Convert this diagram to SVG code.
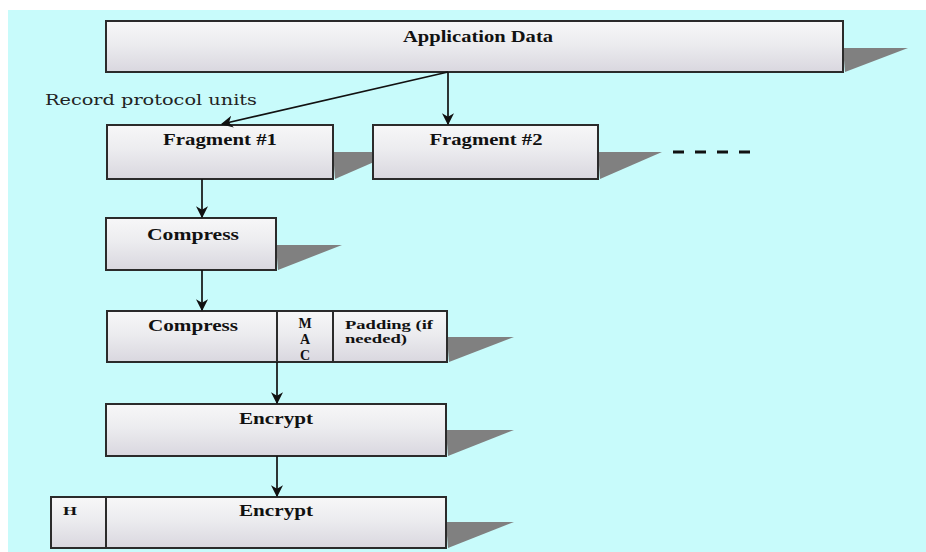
<svg xmlns="http://www.w3.org/2000/svg" width="926" height="552" viewBox="0 0 926 552">
<defs>
<linearGradient id="boxfill" x1="0" y1="0" x2="0" y2="1">
<stop offset="0" stop-color="#f7f7f8"/>
<stop offset="0.45" stop-color="#ececef"/>
<stop offset="1" stop-color="#d9d7df"/>
</linearGradient>
<marker id="arr" viewBox="0 0 10 10" refX="9" refY="5" markerWidth="12" markerHeight="12" markerUnits="userSpaceOnUse" orient="auto">
<path d="M0,0 L10,5 L0,10 L3,5 Z" fill="#111"/>
</marker>
</defs>
<style>
.box{fill:url(#boxfill);stroke:#2b2b2b;stroke-width:2}
.div{stroke:#2b2b2b;stroke-width:2}
.shadow{fill:#808080}
.lbl{font-family:"Liberation Serif","Times New Roman",serif;font-weight:bold;font-size:16px;fill:#111;text-anchor:middle}
.small{font-family:"Liberation Serif","Times New Roman",serif;font-weight:bold;font-size:13px;fill:#111}
.mac{font-family:"Liberation Serif","Times New Roman",serif;font-weight:bold;font-size:14px;fill:#111;text-anchor:middle}
.conn{stroke:#111;stroke-width:1.7;fill:none}
</style>
<rect x="0" y="0" width="926" height="552" fill="#ffffff"/>
<rect x="8" y="10" width="918" height="542" fill="#c8fbfb"/>

<g id="shadows">
<polygon class="shadow" points="843,48 908,48 845,72"/>
<polygon class="shadow" points="333,152 397,152 335,179"/>
<polygon class="shadow" points="598,152 662,152 600,179"/>
<polygon class="shadow" points="276,245 342,245 278,270"/>
<polygon class="shadow" points="447,337 514,337 449,362"/>
<polygon class="shadow" points="446,430 514,430 448,456"/>
<polygon class="shadow" points="446,522 514,522 448,548"/>
</g>

<g id="application-data">
<rect class="box" x="106" y="21" width="737" height="51"/>
<text class="lbl" x="478" y="42" textLength="150" lengthAdjust="spacingAndGlyphs">Application Data</text>
</g>

<text x="45" y="105" font-family="'DejaVu Serif','Liberation Serif',serif" font-size="15" fill="#222" textLength="212" lengthAdjust="spacingAndGlyphs">Record protocol units</text>

<g id="fragment-1">
<rect class="box" x="107" y="125" width="226" height="54"/>
<text class="lbl" x="220" y="145" textLength="114" lengthAdjust="spacingAndGlyphs">Fragment #1</text>
</g>

<g id="fragment-2">
<rect class="box" x="373" y="125" width="225" height="54"/>
<text class="lbl" x="486" y="145" textLength="113" lengthAdjust="spacingAndGlyphs">Fragment #2</text>
</g>

<g id="more-fragments">
<line x1="673" y1="152" x2="750" y2="152" stroke="#111" stroke-width="3" stroke-dasharray="11,11"/>
</g>

<g id="compress">
<rect class="box" x="106" y="218" width="170" height="52"/>
<text class="lbl" x="193" y="240" textLength="92" lengthAdjust="spacingAndGlyphs">Compress</text>
</g>

<g id="compress-mac-padding">
<rect class="box" x="107" y="311" width="340" height="51"/>
<line class="div" x1="277" y1="311" x2="277" y2="362"/>
<line class="div" x1="333" y1="311" x2="333" y2="362"/>
<text class="lbl" x="193" y="331" textLength="90" lengthAdjust="spacingAndGlyphs">Compress</text>
<text class="mac" x="305" y="328">M</text>
<text class="mac" x="305" y="344">A</text>
<text class="mac" x="305" y="360">C</text>
<text class="small" x="345" y="329" textLength="88" lengthAdjust="spacingAndGlyphs">Padding (if</text>
<text class="small" x="345" y="343" textLength="62" lengthAdjust="spacingAndGlyphs">needed)</text>
</g>

<g id="encrypt">
<rect class="box" x="106" y="404" width="340" height="52"/>
<text class="lbl" x="276" y="424" textLength="74" lengthAdjust="spacingAndGlyphs">Encrypt</text>
</g>

<g id="header-encrypt">
<rect class="box" x="51" y="497" width="395" height="51"/>
<line class="div" x1="106" y1="497" x2="106" y2="548"/>
<text class="small" x="70" y="515" text-anchor="middle" textLength="14" lengthAdjust="spacingAndGlyphs">H</text>
<text class="lbl" x="276" y="516" textLength="74" lengthAdjust="spacingAndGlyphs">Encrypt</text>
</g>

<g id="connectors">
<line class="conn" x1="448" y1="72" x2="222" y2="124" marker-end="url(#arr)"/>
<line class="conn" x1="448" y1="72" x2="448" y2="124" marker-end="url(#arr)"/>
<line class="conn" x1="202" y1="179" x2="202" y2="217" marker-end="url(#arr)"/>
<line class="conn" x1="202" y1="270" x2="202" y2="310" marker-end="url(#arr)"/>
<line class="conn" x1="277" y1="362" x2="277" y2="403" marker-end="url(#arr)"/>
<line class="conn" x1="277" y1="456" x2="277" y2="496" marker-end="url(#arr)"/>
</g>
</svg>
